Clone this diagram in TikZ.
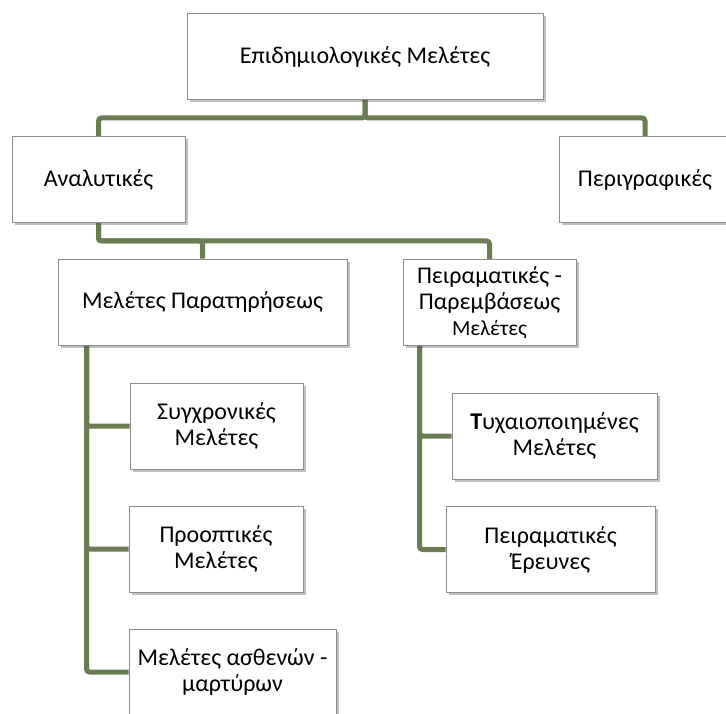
\documentclass[tikz,border=0pt]{standalone}
\usepackage{fontspec}
\setmainfont{Carlito}
\usetikzlibrary{shadows,backgrounds,positioning}

\begin{document}
\begin{tikzpicture}[x=1pt,y=1pt,yscale=-1,
  studybox/.style={draw={rgb, 255:red, 140; green, 140; blue, 140 },line width=0.9pt,fill=white,
    drop shadow={shadow xshift=2.5pt,shadow yshift=-2.5pt,opacity=0.35,fill=black!70},
    align=center,inner sep=2pt,minimum height=86pt,font=\fontsize{24}{26}\selectfont},
  link/.style={draw={rgb, 255:red, 106; green, 125; blue, 82 },line width=5pt,rounded corners=3pt}]
\useasboundingbox (0,0) rectangle (726,713);

%Shape: Rectangle [level 0]
\node[studybox,minimum width=356pt] (epi) at (365,56.5) {Επιδημιολογικές Μελέτες};
%Shape: Rectangle [level 1]
\node[studybox,minimum width=173pt] (anal) at (98.5,179.5) {Αναλυτικές};
\node[studybox,minimum width=172pt] (perig) at (645,179.5) {Περιγραφικές};
%Shape: Rectangle [level 2]
\node[studybox,minimum width=289pt] (obs) at (202.5,302) {Μελέτες Παρατηρήσεως};
\node[studybox,minimum width=173pt] (exper) at (489.5,302.5) {Πειραματικές -\\Παρεμβάσεως\\{\fontsize{21.5}{23}\selectfont Μελέτες}};
%Shape: Rectangle [level 3, left]
\node[studybox,minimum width=173pt] (sync) at (216.5,426) {Συγχρονικές\\Μελέτες};
\node[studybox,minimum width=174pt] (prosp) at (216,549) {Προοπτικές\\Μελέτες};
\node[studybox,minimum width=207pt] (casec) at (232.5,672) {Μελέτες ασθενών -\\μαρτύρων};
%Shape: Rectangle [level 3, right]
\node[studybox,minimum width=205pt] (rand) at (554.5,436) {\textbf{Τ}υχαιοποιημένες\\Μελέτες};
\node[studybox,minimum width=209pt] (pexp) at (550.5,549.5) {Πειραματικές\\Έρευνες};

\begin{scope}[on background layer]
\fill[white] (0,0) rectangle (726,713);
%Connectors
\draw[link] (epi.south) -- ++(0,18) -| (anal.north);
\draw[link] (epi.south) -- ++(0,18) -| (perig.north);
\draw[link] (anal.south) -- ++(0,18) -| (obs.north);
\draw[link] (anal.south) -- ++(0,18) -| (exper.north);
\draw[link] ([xshift=29pt]obs.south west) |- (sync.west);
\draw[link] ([xshift=29pt]obs.south west) |- (prosp.west);
\draw[link] ([xshift=29pt]obs.south west) |- (casec.west);
\draw[link] ([xshift=17pt]exper.south west) |- (rand.west);
\draw[link] ([xshift=17pt]exper.south west) |- (pexp.west);
\end{scope}
\end{tikzpicture}
\end{document}
